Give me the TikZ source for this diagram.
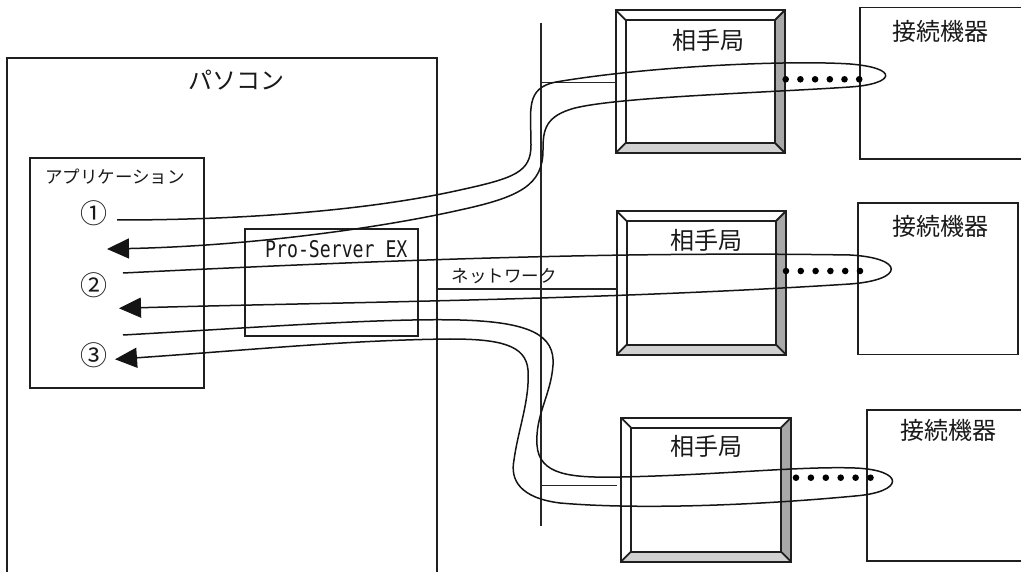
\documentclass[tikz,border=0pt]{standalone}
\usepackage{fontspec}
\usepackage{graphicx}
\newfontfamily\jpfont{Noto Sans CJK JP}
\newfontfamily\psmono{DejaVu Sans Mono}
\usetikzlibrary{arrows.meta}
\newcommand\aitekyoku[5]{%
  \fill[bevR] (#4,#3) -- (#4,#5) -- ({#4-10},{#5-10}) -- ({#4-10},{#3+10}) -- cycle;
  \fill[bevB] (#2,#5) -- (#4,#5) -- ({#4-10},{#5-10}) -- ({#2+10},{#5-10}) -- cycle;
  \draw[frame] (#2,#3) rectangle (#4,#5);
  \draw[frame] ({#2+10},{#3+10}) rectangle ({#4-10},{#5-10});
  \draw[frame] (#2,#3) -- ({#2+10},{#3+10}) (#4,#3) -- ({#4-10},{#3+10})
               (#2,#5) -- ({#2+10},{#5-10}) (#4,#5) -- ({#4-10},{#5-10});
  \node[inner sep=0pt, outer sep=0pt, minimum width={#4-#2}, minimum height={#5-#3}, anchor=north west] (#1) at (#2,#3) {};
}
\begin{document}
\begin{tikzpicture}[x=1pt,y=-1pt,
  frame/.style={draw=black!88,line width=1.8pt},
  wire/.style={draw=black!92,line width=1.5pt},
  netline/.style={draw=black!85,line width=1.4pt},
  arr/.style={-{Triangle[length=22pt,width=20pt]}},
  big/.style={font=\jpfont\fontsize{24}{26}\selectfont,inner sep=0pt,text=black!90},
  circ/.style={font=\jpfont\fontsize{27}{29}\selectfont,inner sep=0pt,text=black!90},
  small/.style={font=\jpfont\fontsize{17.5}{20}\selectfont,inner sep=0pt,text=black!90},
  bevR/.style={fill=black!34},
  bevB/.style={fill=black!18},
  dot/.style={fill=black}]
\useasboundingbox (0,0) rectangle (1021,572);

% PC box (open at the bottom)
\draw[frame] (6.7,576) -- (6.7,58.3) -- (436.7,58.3) -- (436.7,576);
\node[big] (pc) at (236.7,80) {パソコン};

% application box
\node[frame, inner sep=0pt, minimum width=173.7pt, minimum height=230pt, anchor=north west] (app) at (29,157.3) {};
\node[small] (applbl) at (115,176.7) {アプリケーション};
\node[circ] (c1) at (94,213) {①};
\node[circ] (c2) at (94,285) {②};
\node[circ] (c3) at (94,355.5) {③};

% Pro-Server EX box
\node[frame, inner sep=0pt, minimum width=173.3pt, minimum height=106.7pt, anchor=north west] (pse) at (244,228.3) {};
\node[font=\psmono\fontsize{23}{25}\selectfont, anchor=west, inner sep=0pt, text=black!90] (pselbl) at (265,249) {\scalebox{0.79}[1]{Pro-Server EX}};

% stations
\aitekyoku{st1}{615.7}{10}{785}{153}
\aitekyoku{st2}{616.7}{211}{786}{354.7}
\aitekyoku{st3}{621}{417.7}{791}{561.7}
\node[big] (t1) at (708.3,40.5) {相手局};
\node[big] (t2) at (706,240) {相手局};
\node[big] (t3) at (706,446.7) {相手局};

% connected devices
\node[frame, inner sep=0pt, minimum width=161.4pt, minimum height=151.3pt, anchor=north west] (d1) at (859.3,6.7) {};
\node[frame, inner sep=0pt, minimum width=160pt, minimum height=151.4pt, anchor=north west] (d2) at (857.3,202.3) {};
\coordinate (d3a) at (1024,409.7);
\coordinate (d3b) at (866.7,409.7);
\coordinate (d3c) at (866.7,561);
\coordinate (d3d) at (1024,561);
\draw[frame] (d3a) -- (d3b) -- (d3c) -- (d3d);
\node[big] (k1) at (940,31.7) {接続機器};
\node[big] (k2) at (940,226.7) {接続機器};
\node[big] (k3) at (948.3,430.3) {接続機器};

% network
\coordinate (nt) at (541,23);
\coordinate (nb) at (541,526);
\draw[netline] (nt) -- (nb);
\coordinate (j1) at (541,82.3);
\coordinate (j3) at (541,485.7);
\coordinate (pcnet) at (436.7,289);
\draw[netline] (j1) -- (j1 -| st1.west);
\draw[netline] (j3) -- (617,485.7);
\draw[netline] (pcnet) -- (pcnet -| st2.west);
\node[small, anchor=west] (netlbl) at (451.7,276) {ネットワーク};

% dots
\foreach \i in {0,...,5} {
  \fill[dot] ({785.7+\i*14.7},79.3) circle[radius=3.3pt];
  \fill[dot] ({786+\i*14.8},271) circle[radius=3.3pt];
  \fill[dot] ({796+\i*14.9},477.7) circle[radius=3.3pt];
}

% wire 1
\coordinate (o1) at (117,220);
\coordinate (r1) at (107,249);
\draw[wire, arr] (o1) .. controls (260,220) and (380,208) .. (460,190)
  .. controls (515,178) and (531,172) .. (531,145)
  .. controls (531,110) and (525,88) .. (556,82)
  .. controls (650,66) and (790,60) .. (850,64)
  .. controls (900,68) and (895,84) .. (850,87)
  .. controls (760,93) and (620,97) .. (575,108)
  .. controls (545,116) and (543,130) .. (543,150)
  .. controls (543,185) and (520,197) .. (460,210)
  .. controls (380,228) and (250,246) .. (r1);

% wire 2
\coordinate (o2) at (123,273);
\coordinate (r2) at (119,308.3);
\draw[wire, arr] (o2) .. controls (350,262) and (600,251) .. (850,255)
  .. controls (905,258) and (905,280) .. (850,284)
  .. controls (600,300) and (350,302) .. (r2);

% wire 3
\coordinate (o3) at (123,335);
\coordinate (r3) at (115,359.3);
\draw[wire, arr] (o3) .. controls (250,328) and (380,318) .. (460,320)
  .. controls (530,322) and (555,335) .. (553,365)
  .. controls (551,395) and (535,415) .. (537,445)
  .. controls (539,475) and (570,478) .. (620,477)
  .. controls (720,475) and (800,466) .. (855,468)
  .. controls (905,470) and (905,492) .. (855,496)
  .. controls (760,505) and (640,510) .. (560,503)
  .. controls (520,498) and (510,480) .. (514,460)
  .. controls (518,430) and (530,400) .. (528,370)
  .. controls (526,345) and (500,339) .. (450,339)
  .. controls (350,340) and (250,350) .. (r3);
\end{tikzpicture}
\end{document}
